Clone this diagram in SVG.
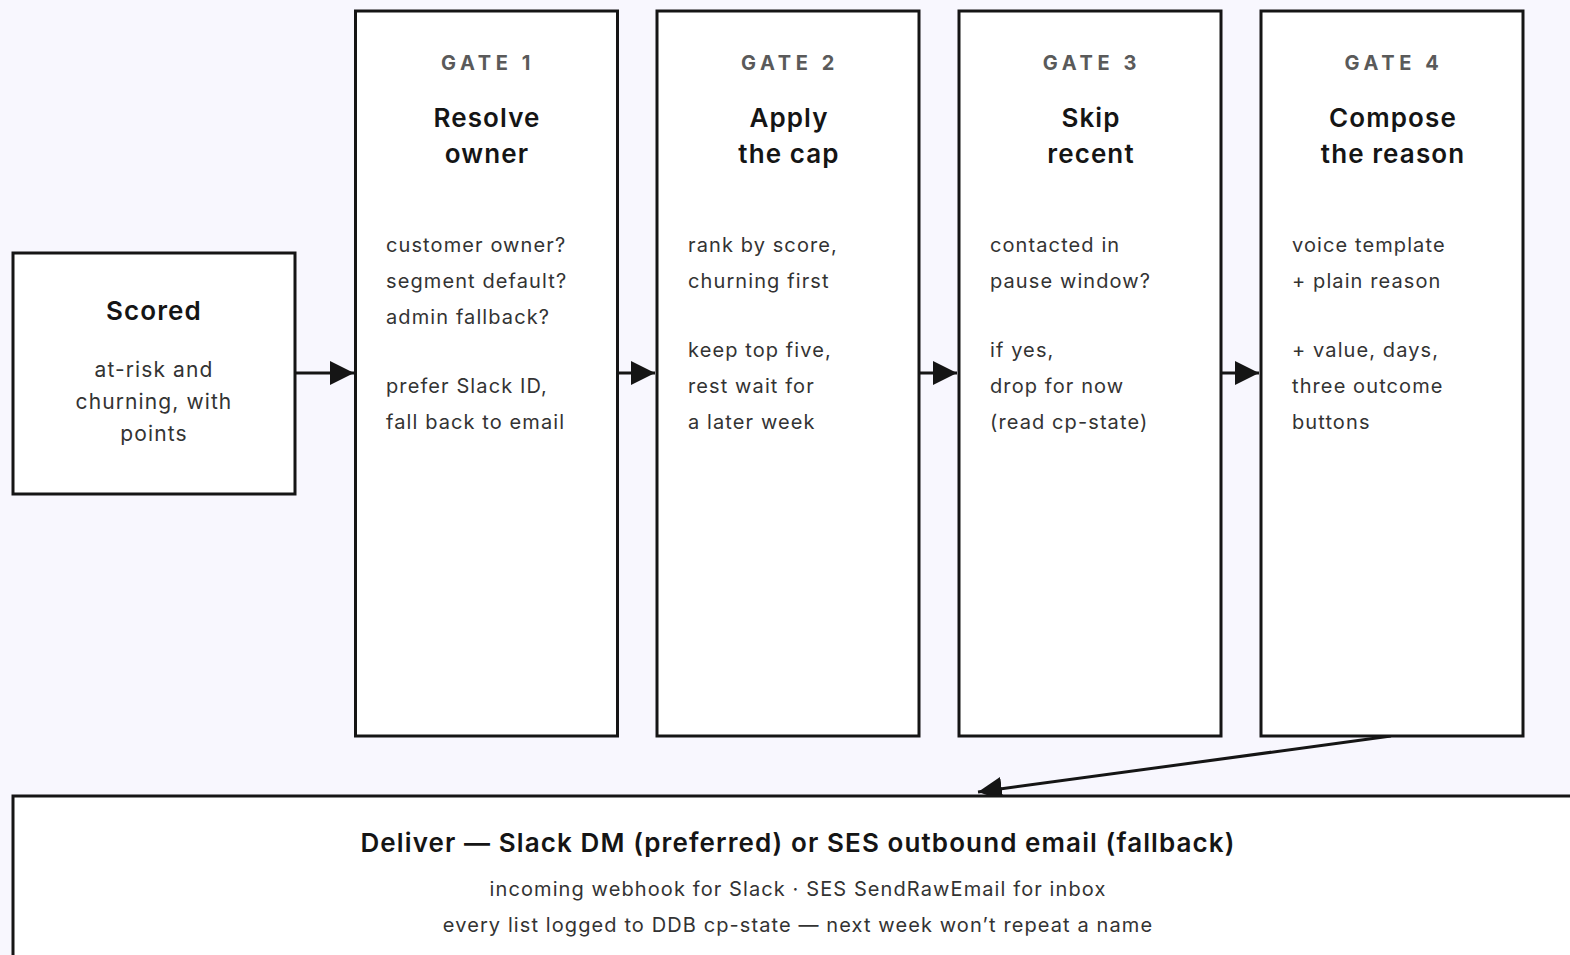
<svg xmlns="http://www.w3.org/2000/svg" width="1570" height="955" viewBox="0 0 1570 955">
  <style>
    .box { fill: #ffffff; stroke: #151515; stroke-width: 3; }
    .edge { fill: none; stroke: #151515; stroke-width: 3; }
    .kicker { font-family: Inter, "Liberation Sans", sans-serif; font-size: 20px; font-weight: 700; fill: #5a5a5a; letter-spacing: 4.6px; text-anchor: middle; }
    .title { font-family: Inter, "Liberation Sans", sans-serif; font-size: 26px; font-weight: 600; fill: #151515; letter-spacing: 1.1px; text-anchor: middle; }
    .body { font-family: Inter, "Liberation Sans", sans-serif; font-size: 20px; fill: #333333; letter-spacing: 1.1px; }
    .lead { font-size: 21px; letter-spacing: 1.1px; }
    .mid { text-anchor: middle; }
  </style>
  <defs>
    <marker id="arrow" viewBox="0 0 10 10" refX="10" refY="5" markerWidth="8" markerHeight="8" markerUnits="strokeWidth" orient="auto">
      <path d="M0,0 L10,5 L0,10 Z" fill="#151515"/>
    </marker>
  </defs>
  <rect width="1570" height="955" fill="#f8f7fe"/>

  <g id="connectors">
    <line class="edge" x1="295" y1="373" x2="354" y2="373" marker-end="url(#arrow)"/>
    <line class="edge" x1="617" y1="373" x2="655" y2="373" marker-end="url(#arrow)"/>
    <line class="edge" x1="919" y1="373" x2="957" y2="373" marker-end="url(#arrow)"/>
    <line class="edge" x1="1221" y1="373" x2="1259" y2="373" marker-end="url(#arrow)"/>
    <line class="edge" x1="1391" y1="736" x2="978" y2="792" marker-end="url(#arrow)"/>
  </g>

  <g id="scored">
    <rect class="box" x="13" y="253" width="282" height="241"/>
    <text class="title" x="154" y="320">Scored</text>
    <text class="body lead mid" x="154" y="377">at-risk and</text>
    <text class="body lead mid" x="154" y="409">churning, with</text>
    <text class="body lead mid" x="154" y="441">points</text>
  </g>

  <g id="gate1">
    <rect class="box" x="355.5" y="11" width="262" height="725"/>
    <text class="kicker" x="488" y="70">GATE 1</text>
    <text class="title" x="487" y="127">Resolve</text>
    <text class="title" x="487" y="163">owner</text>
    <text class="body" x="386" y="252">customer owner?</text>
    <text class="body" x="386" y="288">segment default?</text>
    <text class="body" x="386" y="324">admin fallback?</text>
    <text class="body" x="386" y="393">prefer Slack ID,</text>
    <text class="body" x="386" y="429">fall back to email</text>
  </g>

  <g id="gate2">
    <rect class="box" x="657" y="11" width="262" height="725"/>
    <text class="kicker" x="790" y="70">GATE 2</text>
    <text class="title" x="789" y="127">Apply</text>
    <text class="title" x="789" y="163">the cap</text>
    <text class="body" x="688" y="252">rank by score,</text>
    <text class="body" x="688" y="288">churning first</text>
    <text class="body" x="688" y="357">keep top five,</text>
    <text class="body" x="688" y="393">rest wait for</text>
    <text class="body" x="688" y="429">a later week</text>
  </g>

  <g id="gate3">
    <rect class="box" x="959" y="11" width="262" height="725"/>
    <text class="kicker" x="1092" y="70">GATE 3</text>
    <text class="title" x="1091" y="127">Skip</text>
    <text class="title" x="1091" y="163">recent</text>
    <text class="body" x="990" y="252">contacted in</text>
    <text class="body" x="990" y="288">pause window?</text>
    <text class="body" x="990" y="357">if yes,</text>
    <text class="body" x="990" y="393">drop for now</text>
    <text class="body" x="990" y="429">(read cp-state)</text>
  </g>

  <g id="gate4">
    <rect class="box" x="1261" y="11" width="262" height="725"/>
    <text class="kicker" x="1394" y="70">GATE 4</text>
    <text class="title" x="1393" y="127">Compose</text>
    <text class="title" x="1393" y="163">the reason</text>
    <text class="body" x="1292" y="252">voice template</text>
    <text class="body" x="1292" y="288">+ plain reason</text>
    <text class="body" x="1292" y="357">+ value, days,</text>
    <text class="body" x="1292" y="393">three outcome</text>
    <text class="body" x="1292" y="429">buttons</text>
  </g>

  <g id="deliver">
    <rect class="box" x="13" y="796" width="1580" height="200"/>
    <text class="title" x="798" y="852">Deliver — Slack DM (preferred) or SES outbound email (fallback)</text>
    <text class="body mid" x="798" y="896">incoming webhook for Slack · SES SendRawEmail for inbox</text>
    <text class="body mid" x="798" y="932">every list logged to DDB cp-state — next week won’t repeat a name</text>
  </g>
</svg>
